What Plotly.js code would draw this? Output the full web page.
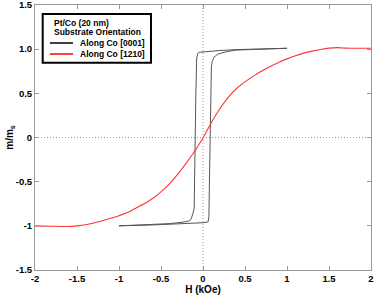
<!DOCTYPE html>
<html>
<head>
<meta charset="utf-8">
<script src="https://cdn.plot.ly/plotly-3.0.1.min.js"></script>
<style>html,body{margin:0;padding:0;background:#fff;}#chart{width:374px;height:299px;}</style>
</head>
<body>
<div id="chart"></div>
<script>
// Along Co [0001] hysteresis loop (descending then ascending branch)
var blackH = [1.0, 0.7, 0.4, 0.2, 0.0, -0.04, -0.06, -0.075, -0.085, -0.095, -0.1, -0.105, -0.12, -0.14, -0.16, -0.25, -0.4, -0.6, -0.8, -1.0,
              -0.6, -0.3, 0.0, 0.06, 0.07, 0.08, 0.09, 0.1, 0.11, 0.13, 0.18, 0.28, 0.4, 0.7, 1.0];
var blackM = [1.01, 1.005, 0.995, 0.985, 0.975, 0.965, 0.955, 0.9, 0.5, 0.0, -0.5, -0.8, -0.86, -0.92, -0.944, -0.96, -0.975, -0.985, -0.993, -1.0,
              -0.99, -0.98, -0.965, -0.955, -0.9, -0.3, 0.3, 0.8, 0.86, 0.91, 0.945, 0.972, 0.99, 1.003, 1.01];
// Along Co [1210]
var redH = [-2.0, -1.8, -1.6, -1.5, -1.4, -1.3, -1.2, -1.1, -1.0, -0.9, -0.8, -0.7, -0.6, -0.5, -0.4, -0.3, -0.2, -0.1, 0.0,
            0.1, 0.2, 0.3, 0.4, 0.5, 0.6, 0.7, 0.8, 0.9, 1.0, 1.1, 1.2, 1.3, 1.4, 1.5, 1.6, 1.7, 1.8, 2.0];
var redM = [-1.0, -1.004, -1.008, -1.0, -0.988, -0.968, -0.943, -0.915, -0.885, -0.85, -0.80, -0.75, -0.69, -0.615, -0.525, -0.415, -0.29, -0.155, -0.005,
            0.17, 0.325, 0.455, 0.555, 0.63, 0.695, 0.752, 0.805, 0.85, 0.89, 0.925, 0.955, 0.978, 0.997, 1.012, 1.017, 1.012, 1.01, 1.01];

var seriesNames = ['Along Co [0001]', 'Along Co [1210]'];
var seriesColors = ['#555555', '#ff3333'];
var legendTitle = ['Pt/Co (20 nm)', 'Substrate Orientation'];

var xTickVals = [-2, -1.5, -1, -0.5, 0, 0.5, 1, 1.5, 2];
var xTickText = ['-2', '-1.5', '-1', '-0.5', '0', '0.5', '1', '1.5', '2'];
var yTickVals = [-1.5, -1, -0.5, 0, 0.5, 1, 1.5];
var yTickText = ['-1.5', '-1', '-0.5', '0', '0.5', '1.0', '1.5'];

var FONT = 'Liberation Sans, Arial, Helvetica, sans-serif';

var traces = [
  {x: blackH, y: blackM, type: 'scatter', mode: 'lines', name: seriesNames[0],
   line: {color: seriesColors[0], width: 1}, showlegend: false},
  {x: redH, y: redM, type: 'scatter', mode: 'lines', name: seriesNames[1],
   line: {color: seriesColors[1], width: 1.1, shape: 'spline', smoothing: 0.5}, showlegend: false}
];

// legend geometry in paper coordinates
var bx0 = 0.0229, bx1 = 0.3452, by0 = 0.7823, by1 = 0.966;
var rowY = [0.932, 0.898, 0.8566, 0.815];

var shapes = [
  {type: 'line', xref: 'x', yref: 'paper', x0: 0, x1: 0, y0: 0, y1: 1,
   line: {color: '#999', width: 1, dash: '1px,2px'}, layer: 'below'},
  {type: 'line', xref: 'paper', yref: 'y', x0: 0, x1: 1, y0: 0, y1: 0,
   line: {color: '#999', width: 1, dash: '1px,2px'}, layer: 'below'},
  {type: 'rect', xref: 'paper', yref: 'paper', x0: bx0, x1: bx1, y0: by0, y1: by1,
   line: {color: '#000', width: 2}, fillcolor: '#fff'},
  {type: 'line', xref: 'paper', yref: 'paper', x0: 0.0446, x1: 0.1131, y0: rowY[2], y1: rowY[2],
   line: {color: '#000', width: 1.5}},
  {type: 'line', xref: 'paper', yref: 'paper', x0: 0.0446, x1: 0.1131, y0: rowY[3], y1: rowY[3],
   line: {color: '#ff0000', width: 1.5}}
];

var legFont = {family: FONT, size: 8.5, color: '#000', weight: 'bold'};
var annotations = [
  {xref: 'paper', yref: 'paper', x: 0.0497, y: rowY[0], text: legendTitle[0], showarrow: false, xanchor: 'left', yanchor: 'middle', font: legFont},
  {xref: 'paper', yref: 'paper', x: 0.0497, y: rowY[1], text: legendTitle[1], showarrow: false, xanchor: 'left', yanchor: 'middle', font: legFont},
  {xref: 'paper', yref: 'paper', x: 0.128, y: rowY[2], text: seriesNames[0], showarrow: false, xanchor: 'left', yanchor: 'middle', font: legFont},
  {xref: 'paper', yref: 'paper', x: 0.128, y: rowY[3], text: seriesNames[1], showarrow: false, xanchor: 'left', yanchor: 'middle', font: legFont}
];

var tickFont = {family: FONT, size: 9.5, color: '#000', weight: 'bold'};
var layout = {
  width: 374, height: 299,
  margin: {l: 35, r: 3, t: 5, b: 29},
  paper_bgcolor: '#fff', plot_bgcolor: '#fff',
  showlegend: false,
  xaxis: {
    range: [-2, 2], tickvals: xTickVals, ticktext: xTickText,
    ticks: 'inside', ticklen: 4, tickcolor: '#999', tickwidth: 1,
    showline: true, linecolor: '#999', linewidth: 1, mirror: 'ticks',
    showgrid: false, zeroline: false, tickfont: tickFont, ticklabeloverflow: 'allow',
    title: {text: 'H (kOe)', font: {family: FONT, size: 10, color: '#000', weight: 'bold'}, standoff: 2}
  },
  yaxis: {
    range: [-1.5, 1.5], tickvals: yTickVals, ticktext: yTickText,
    ticks: 'inside', ticklen: 4, tickcolor: '#999', tickwidth: 1,
    showline: true, linecolor: '#999', linewidth: 1, mirror: 'ticks',
    showgrid: false, zeroline: false, tickfont: tickFont, ticklabeloverflow: 'allow',
    title: {text: 'm/m<sub>s</sub>', font: {family: FONT, size: 10, color: '#000', weight: 'bold'}, standoff: 0}
  },
  shapes: shapes,
  annotations: annotations
};

Plotly.newPlot('chart', traces, layout, {displayModeBar: false, staticPlot: true});
</script>
</body>
</html>
